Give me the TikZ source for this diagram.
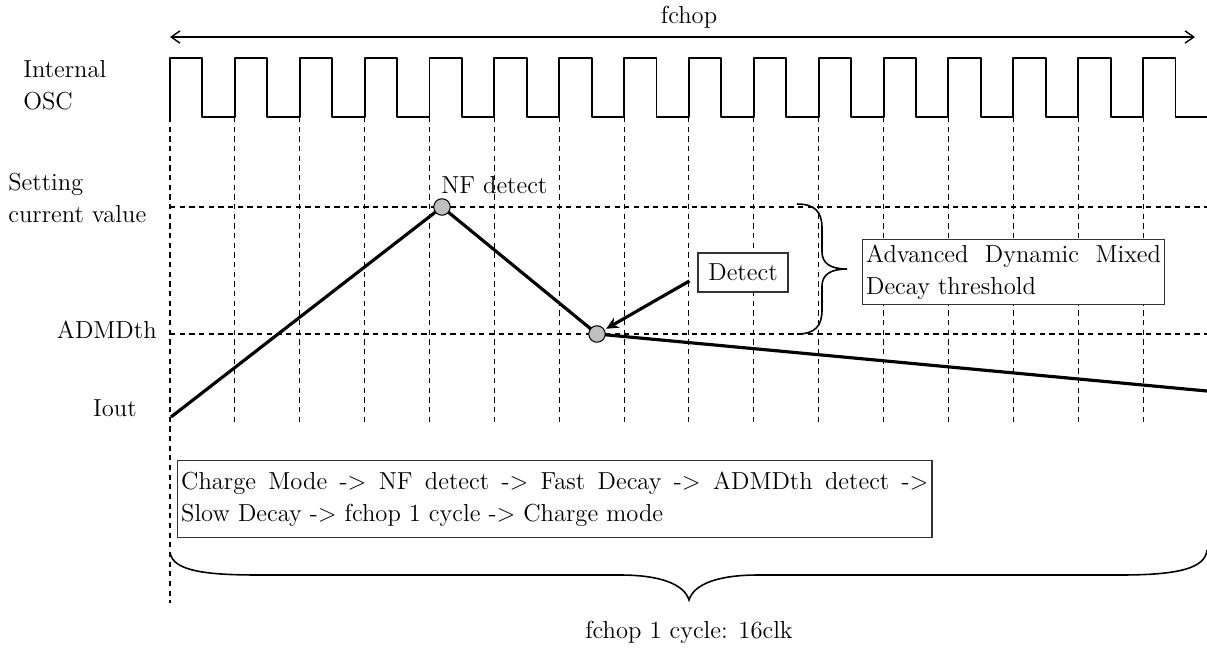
\documentclass[tikz,border=0pt]{standalone}
\usetikzlibrary{arrows.meta}
\usetikzlibrary{calc}
\usetikzlibrary{positioning}

\begin{document}
\begin{tikzpicture}[x=0.02cm,y=-0.02cm,font=\fontsize{14}{18}\selectfont,
	clock/.style={line width=1.1pt,line join=round},
	grid/.style={line width=0.6pt,dash pattern=on 3pt off 2.5pt},
	current/.style={line width=1.8pt,line join=round},
	dot/.style={draw,circle,fill=black!25,line width=0.6pt,minimum size=0.33cm,inner sep=0pt},
	textbox/.style={draw=black!80,line width=0.7pt,fill=white},
	brace/.style={line width=0.9pt},
	label text/.style={inner sep=0pt}]
				\useasboundingbox (0,0) rectangle (1207,647);
				% period of the internal oscillator
				\def\period{64.87}
				% labels on the left
				\node[label text,anchor=west,align=left] (OSC_LABEL) at (23,85) {Internal\\OSC};
				\node[label text,anchor=west,align=left] (SETTING_LABEL) at (8,198) {Setting\\current value};
				\node[label text,anchor=east] (ADMDTH_LABEL) at (157,330) {ADMDth};
				\node[label text,anchor=east] (IOUT_LABEL) at (137,408) {Iout};
				% fchop
				\coordinate (FCHOP_START) at (170,37);
				\coordinate (FCHOP_END) at (1195,37);
				\node (FCHOP_LABEL) at (689,17) {fchop};
				\draw[line width=0.8pt,{Straight Barb[length=5pt,width=7pt]}-{Straight Barb[length=5pt,width=7pt]}] (FCHOP_START) -- (FCHOP_END);
				% internal OSC
				\draw[clock] (170,117) \foreach \k in {1,...,16} { -- ++(0,-59) -- ++(\period/2,0) -- ++(0,59) -- ++(\period/2,0) };
				% dashed grid
				\draw[grid] (170,117) -- (170,603);
				\foreach \k in {1,...,15}
					\draw[grid] ({170+\period*\k},117) -- ++(0,306);
				\draw[grid] (170,207) -- (1207,207);
				\draw[grid] (170,334) -- (1207,334);
				% output current
				\coordinate (IOUT_START) at (171,417);
				\coordinate (PEAK) at (442,207);
				\coordinate (VALLEY) at (597,334);
				\coordinate (IOUT_END) at (1207,391);
				\draw[current] (IOUT_START) -- (PEAK) -- (VALLEY) -- (IOUT_END);
				\node[dot] (NF_DETECT) at (PEAK) {};
				\node[dot] (ADMD_POINT) at (VALLEY) {};
				\node[label text,anchor=base west] (NF_LABEL) at (441,193) {NF detect};
				% detect
				\node[textbox,minimum width=1.8cm,minimum height=0.78cm] (DETECT) at (743,272.5) {Detect};
				\draw[line width=1.8pt,-{Stealth[length=7pt,width=6.5pt]},shorten >=1pt] ([xshift=-0.16cm,yshift=-0.17cm]DETECT.west) -- (ADMD_POINT);
				% threshold brace
				\draw[brace] (797,204) .. controls (815,204) and (822,212) .. (822,228) -- (822,252)
					.. controls (822,263) and (830,269) .. (847,269)
					.. controls (830,269) and (822,275) .. (822,286) -- (822,310)
					.. controls (822,326) and (815,334) .. (797,334);
				\node[textbox,anchor=north west,text width=5.9cm,align=justify,inner xsep=2pt,inner ysep=3pt,minimum height=1.3cm] (ADMD_BOX) at (862,239) {Advanced Dynamic Mixed\linebreak Decay threshold};
				% sequence
				\node[textbox,anchor=north west,text width=14.95cm,align=justify,inner xsep=2pt,inner ysep=4pt,minimum height=1.54cm] (MODE_BOX) at (177,460) {Charge Mode -> NF detect -> Fast Decay -> ADMDth detect ->\linebreak Slow Decay -> fchop 1 cycle -> Charge mode};
				% one fchop cycle
				\draw[brace] (170,552) .. controls (172,572) and (210,575) .. (260,575) -- (620,575)
					.. controls (660,575) and (684,584) .. (689,600)
					.. controls (694,584) and (718,575) .. (758,575) -- (1120,575)
					.. controls (1180,575) and (1205,568) .. (1207,550);
				\node (CYCLE_LABEL) at (689,632) {fchop 1 cycle: 16clk};
			\end{tikzpicture}
\end{document}
